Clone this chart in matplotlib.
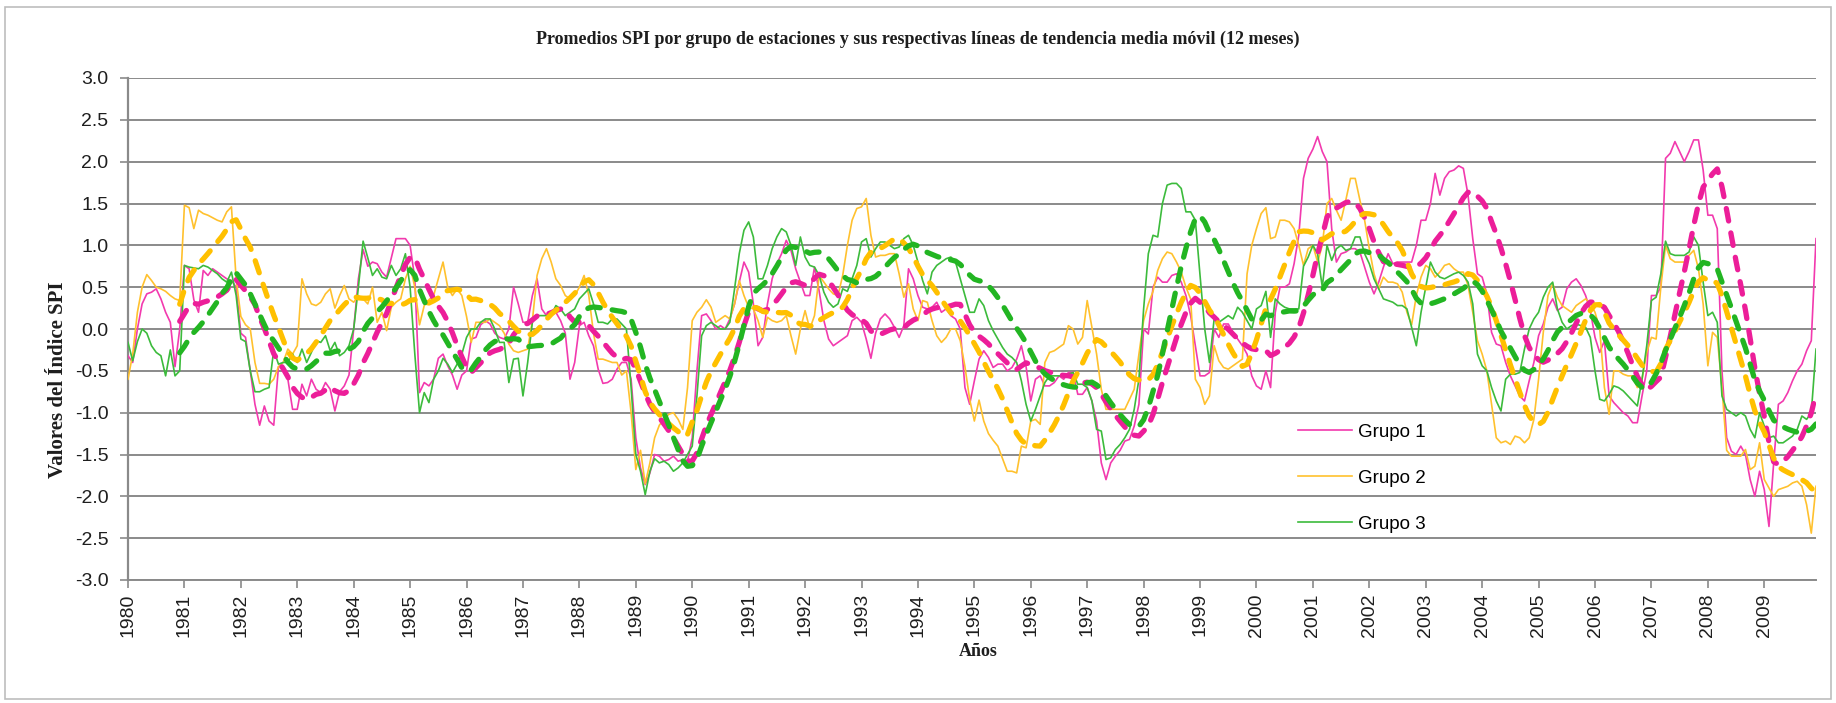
import numpy as np
import pandas as pd
import matplotlib
matplotlib.use("Agg")
import matplotlib.pyplot as plt
from matplotlib.patches import Rectangle

# promedios SPI mensuales 1980-2009, una fila por año
grupo1 = [
    -0.32, -0.40, 0.00, 0.30, 0.42, 0.44, 0.48, 0.36, 0.20, 0.08, -0.45, 0.00,
    0.76, 0.72, 0.35, 0.20, 0.70, 0.64, 0.72, 0.68, 0.64, 0.60, 0.58, 0.50,
    -0.05, -0.10, -0.50, -0.90, -1.15, -0.92, -1.10, -1.15, -0.45, -0.45, -0.60, -0.96,
    -0.96, -0.66, -0.80, -0.60, -0.72, -0.76, -0.64, -0.72, -0.98, -0.75, -0.68, -0.55,
    0.00, 0.60, 0.95, 0.75, 0.80, 0.78, 0.68, 0.62, 0.85, 1.08, 1.08, 1.08,
    1.00, 0.60, -0.76, -0.64, -0.68, -0.60, -0.35, -0.30, -0.44, -0.55, -0.72, -0.55,
    -0.50, -0.12, -0.10, 0.05, 0.10, 0.06, -0.05, -0.10, -0.12, 0.00, 0.50, 0.30,
    0.08, 0.08, 0.40, 0.60, 0.24, 0.16, 0.20, 0.20, 0.10, -0.05, -0.60, -0.40,
    0.04, 0.08, -0.08, -0.20, -0.48, -0.65, -0.64, -0.60, -0.48, -0.40, -0.40, -0.60,
    -1.30, -1.66, -1.86, -1.72, -1.50, -1.52, -1.58, -1.56, -1.52, -1.58, -1.56, -1.58,
    -1.30, -0.50, 0.16, 0.18, 0.10, 0.00, 0.04, 0.00, 0.12, 0.30, 0.56, 0.80,
    0.68, 0.30, -0.20, -0.10, 0.30, 0.60, 0.78, 0.90, 1.06, 0.94, 0.72, 0.56,
    0.40, 0.40, 0.74, 0.45, 0.10, -0.12, -0.20, -0.16, -0.12, -0.08, 0.10, 0.14,
    0.08, -0.12, -0.35, -0.05, 0.12, 0.18, 0.12, 0.02, -0.10, 0.04, 0.72, 0.60,
    0.40, 0.26, 0.24, 0.26, 0.32, 0.20, 0.24, 0.16, 0.12, 0.00, -0.70, -0.90,
    -0.62, -0.36, -0.26, -0.34, -0.46, -0.42, -0.42, -0.50, -0.46, -0.36, -0.20, -0.45,
    -0.86, -0.60, -0.56, -0.68, -0.68, -0.64, -0.56, -0.60, -0.52, -0.52, -0.78, -0.78,
    -0.70, -0.86, -1.10, -1.60, -1.80, -1.60, -1.52, -1.45, -1.34, -1.32, -1.16, -0.90,
    0.00, -0.06, 0.50, 0.62, 0.56, 0.56, 0.64, 0.66, 0.56, 0.40, 0.16, -0.20,
    -0.56, -0.56, -0.52, 0.00, -0.10, 0.06, 0.06, -0.04, -0.12, -0.20, -0.30, -0.56,
    -0.68, -0.72, -0.50, -0.70, 0.20, 0.50, 0.50, 0.54, 0.78, 1.12, 1.80, 2.04,
    2.15, 2.30, 2.12, 2.00, 1.20, 0.80, 0.90, 0.92, 0.96, 0.96, 0.92, 0.74,
    0.56, 0.42, 0.56, 0.74, 0.90, 0.78, 0.80, 0.80, 0.80, 0.80, 1.00, 1.30,
    1.30, 1.50, 1.86, 1.60, 1.80, 1.88, 1.90, 1.95, 1.92, 1.60, 1.08, 0.66,
    0.62, 0.42, -0.04, -0.18, -0.20, -0.40, -0.56, -0.68, -0.80, -0.86, -0.62, -0.40,
    -0.08, 0.06, 0.26, 0.36, 0.22, 0.26, 0.48, 0.56, 0.60, 0.52, 0.40, 0.22,
    -0.10, -0.28, -0.14, -0.80, -0.88, -0.94, -1.00, -1.04, -1.12, -1.12, -0.80, -0.50,
    0.40, 0.40, 0.50, 2.04, 2.10, 2.24, 2.12, 2.00, 2.12, 2.26, 2.26, 1.90,
    1.36, 1.36, 1.20, -0.50, -1.30, -1.46, -1.50, -1.40, -1.50, -1.80, -2.00, -1.70,
    -1.92, -2.36, -1.60, -0.90, -0.86, -0.76, -0.62, -0.50, -0.42, -0.26, -0.14, 1.08,
]

grupo2 = [
    -0.60, -0.30, 0.20, 0.50, 0.65, 0.58, 0.50, 0.48, 0.45, 0.40, 0.36, 0.34,
    1.48, 1.45, 1.20, 1.42, 1.38, 1.36, 1.33, 1.30, 1.28, 1.40, 1.46, 0.60,
    0.15, 0.05, 0.00, -0.40, -0.65, -0.65, -0.66, -0.60, -0.45, -0.40, -0.24, -0.30,
    -0.20, 0.60, 0.42, 0.30, 0.28, 0.32, 0.42, 0.48, 0.25, 0.40, 0.52, 0.36,
    0.32, 0.40, 0.36, 0.30, 0.50, 0.08, 0.20, -0.02, 0.26, 0.32, 0.36, 0.60,
    0.75, 0.50, 0.05, 0.28, 0.35, 0.40, 0.60, 0.80, 0.50, 0.40, 0.48, 0.40,
    0.15, -0.16, 0.08, 0.08, 0.08, 0.12, 0.08, 0.04, -0.05, -0.18, -0.26, -0.28,
    -0.26, -0.24, 0.10, 0.64, 0.84, 0.96, 0.80, 0.60, 0.52, 0.40, 0.36, 0.40,
    0.50, 0.64, 0.40, -0.05, -0.36, -0.36, -0.38, -0.40, -0.40, -0.55, -0.50, -1.00,
    -1.68, -1.45, -1.85, -1.60, -1.30, -1.15, -1.08, -1.02, -1.00, -1.08, -1.20, -0.70,
    0.10, 0.20, 0.26, 0.35, 0.26, 0.08, 0.12, 0.16, 0.12, 0.30, 0.58, 0.40,
    0.26, 0.24, 0.10, -0.10, 0.14, 0.10, 0.08, 0.10, 0.16, -0.08, -0.30, 0.00,
    0.22, 0.00, 0.16, 0.64, 0.56, 0.48, 0.42, 0.40, 0.64, 1.00, 1.30, 1.44,
    1.46, 1.56, 1.12, 0.86, 0.88, 0.88, 0.90, 0.90, 0.66, 0.38, 0.54, 0.24,
    0.10, 0.34, 0.32, 0.10, -0.08, -0.16, -0.10, 0.00, 0.00, -0.14, -0.45, -0.84,
    -1.10, -0.85, -1.10, -1.25, -1.33, -1.40, -1.55, -1.70, -1.70, -1.72, -1.40, -1.42,
    -1.10, -1.08, -1.14, -0.40, -0.28, -0.26, -0.22, -0.18, 0.04, 0.00, -0.18, -0.10,
    0.34, 0.02, -0.30, -0.72, -0.96, -0.96, -0.96, -0.96, -0.96, -0.84, -0.72, -0.30,
    0.10, 0.30, 0.45, 0.70, 0.84, 0.92, 0.90, 0.80, 0.68, 0.50, 0.36, -0.60,
    -0.70, -0.90, -0.80, -0.20, -0.38, -0.46, -0.48, -0.44, -0.40, -0.36, 0.66, 1.00,
    1.20, 1.38, 1.45, 1.08, 1.10, 1.30, 1.30, 1.28, 1.20, 1.00, 0.76, 0.96,
    1.00, 0.80, 1.00, 1.50, 1.56, 1.42, 1.30, 1.54, 1.80, 1.80, 1.54, 1.30,
    0.96, 0.66, 0.48, 0.62, 0.56, 0.56, 0.54, 0.44, 0.20, 0.05, 0.40, 0.62,
    0.76, 0.72, 0.62, 0.68, 0.76, 0.78, 0.72, 0.68, 0.68, 0.52, 0.20, -0.14,
    -0.30, -0.50, -0.90, -1.30, -1.36, -1.34, -1.38, -1.28, -1.30, -1.36, -1.30, -1.08,
    -0.60, -0.04, 0.40, 0.54, 0.38, 0.28, 0.24, 0.20, 0.28, 0.32, 0.36, 0.30,
    0.20, 0.00, -0.70, -1.02, -0.50, -0.50, -0.54, -0.56, -0.56, -0.70, -0.60, -0.28,
    -0.10, -0.12, 0.50, 1.00, 0.84, 0.80, 0.80, 0.80, 0.88, 0.94, 0.72, 0.30,
    -0.44, -0.04, -0.10, -0.70, -1.45, -1.52, -1.52, -1.52, -1.44, -1.68, -1.64, -1.36,
    -1.80, -1.90, -2.00, -1.92, -1.90, -1.88, -1.84, -1.82, -1.88, -2.10, -2.44, -1.88,
]

grupo3 = [
    -0.16, -0.38, -0.15, 0.00, -0.05, -0.20, -0.28, -0.32, -0.56, -0.25, -0.56, -0.50,
    0.76, 0.74, 0.73, 0.72, 0.76, 0.74, 0.70, 0.66, 0.60, 0.56, 0.68, 0.40,
    -0.12, -0.15, -0.50, -0.75, -0.75, -0.72, -0.70, -0.25, -0.42, -0.40, -0.40, -0.30,
    -0.40, -0.24, -0.40, -0.28, -0.14, -0.16, -0.08, -0.26, -0.16, -0.32, -0.28, -0.20,
    0.00, 0.50, 1.05, 0.85, 0.64, 0.72, 0.62, 0.60, 0.76, 0.64, 0.72, 0.90,
    0.50, -0.30, -1.00, -0.76, -0.88, -0.60, -0.50, -0.35, -0.42, -0.52, -0.42, -0.30,
    -0.10, 0.00, 0.00, 0.08, 0.12, 0.12, 0.00, -0.16, -0.16, -0.64, -0.36, -0.35,
    -0.80, -0.40, 0.08, 0.16, 0.16, 0.16, 0.16, 0.28, 0.24, 0.16, 0.20, 0.24,
    0.36, 0.42, 0.48, 0.30, 0.08, 0.08, 0.06, 0.12, 0.12, 0.06, 0.00, -0.70,
    -1.50, -1.70, -1.98, -1.70, -1.55, -1.60, -1.58, -1.62, -1.70, -1.66, -1.60, -1.50,
    -1.40, -0.80, -0.08, 0.04, 0.08, 0.04, 0.00, 0.00, 0.08, 0.48, 0.90, 1.18,
    1.28, 1.10, 0.60, 0.60, 0.76, 0.96, 1.10, 1.20, 1.16, 1.00, 0.76, 1.10,
    0.86, 0.76, 0.74, 0.64, 0.44, 0.32, 0.26, 0.30, 0.48, 0.45, 0.60, 0.76,
    1.04, 1.08, 0.86, 0.96, 1.04, 1.04, 1.00, 0.96, 0.98, 1.08, 1.12, 1.00,
    0.80, 0.58, 0.42, 0.68, 0.76, 0.80, 0.84, 0.86, 0.80, 0.60, 0.40, 0.20,
    0.20, 0.36, 0.28, 0.10, -0.02, -0.12, -0.22, -0.30, -0.34, -0.40, -0.62, -0.90,
    -1.10, -0.96, -0.80, -0.64, -0.56, -0.56, -0.56, -0.56, -0.54, -0.52, -0.66, -0.66,
    -0.70, -0.86, -1.20, -1.22, -1.56, -1.54, -1.44, -1.38, -1.30, -1.20, -0.96, -0.60,
    0.24, 0.90, 1.12, 1.10, 1.50, 1.72, 1.74, 1.74, 1.68, 1.40, 1.40, 1.30,
    0.64, 0.00, -0.40, 0.12, 0.08, 0.12, 0.16, 0.12, 0.26, 0.20, 0.10, 0.00,
    0.24, 0.28, 0.45, -0.10, 0.36, 0.30, 0.26, 0.24, 0.24, 0.24, 0.75, 0.86,
    1.00, 0.90, 0.50, 1.00, 0.82, 0.96, 1.00, 0.94, 0.96, 1.10, 1.10, 0.90,
    0.78, 0.60, 0.48, 0.36, 0.34, 0.32, 0.28, 0.28, 0.24, 0.02, -0.20, 0.20,
    0.50, 0.80, 0.68, 0.62, 0.60, 0.63, 0.66, 0.68, 0.64, 0.56, 0.30, -0.30,
    -0.44, -0.50, -0.70, -0.86, -0.98, -0.60, -0.54, -0.54, -0.52, -0.24, 0.00, 0.12,
    0.20, 0.38, 0.50, 0.56, 0.24, 0.08, 0.00, 0.04, 0.06, 0.04, 0.02, -0.10,
    -0.50, -0.84, -0.86, -0.78, -0.68, -0.70, -0.74, -0.80, -0.86, -0.92, -0.60, -0.20,
    0.34, 0.38, 0.66, 1.05, 0.90, 0.88, 0.88, 0.88, 0.92, 1.10, 1.00, 0.56,
    0.16, 0.20, 0.08, -0.80, -0.96, -1.00, -1.04, -1.00, -1.04, -1.20, -1.30, -1.00,
    -1.16, -1.30, -1.28, -1.36, -1.36, -1.32, -1.28, -1.20, -1.04, -1.08, -1.00, -0.24,
]

years = list(range(1980, 2010))
nombres = ["Grupo 1", "Grupo 2", "Grupo 3"]
colores = ["#F23AAE", "#FFC12E", "#3CBB3C"]
colores_mm = ["#EC1E99", "#FFC000", "#22B522"]

df = pd.DataFrame({"Grupo 1": grupo1, "Grupo 2": grupo2, "Grupo 3": grupo3})
mm = df.rolling(12).mean()   # media móvil de 12 meses
x = np.arange(len(df))

fig = plt.figure(figsize=(18.36, 7.03), dpi=100)
fig.patch.set_facecolor("white")
fig.patches.append(Rectangle((5 / 1836, 4 / 703), 1826 / 1836, 692 / 703,
                             transform=fig.transFigure, fill=False,
                             edgecolor="#BDBDBD", lw=1.2))

ax = fig.add_axes([128 / 1836, 1 - 580 / 703, 1688 / 1836, 502 / 703])

lineas = []
for nom, col in zip(nombres, colores):
    l, = ax.plot(x, df[nom], color=col, lw=1.2, label=nom, zorder=3)
    lineas.append(l)
for nom, col in zip(nombres, colores_mm):
    ax.plot(x, mm[nom], color=col, lw=3.8, dashes=(2.4, 2.3),
            dash_capstyle="round", zorder=4)

ax.set_xlim(0, len(df) - 1)
ax.set_ylim(-3, 3)
ax.set_yticks(np.arange(-3, 3.01, 0.5))
ax.set_yticklabels([f"{v:.1f}" for v in np.arange(-3, 3.01, 0.5)])
ax.set_xticks(np.arange(0, len(df), 12))
ax.set_xticklabels([str(a) for a in years], rotation=90)

ax.yaxis.grid(True, color="#8A8A8A", lw=1.4)
ax.set_axisbelow(True)
for s in ["top", "right"]:
    ax.spines[s].set_visible(False)
ax.spines["left"].set_color("#8A8A8A")
ax.spines["left"].set_linewidth(1.6)
ax.spines["bottom"].set_color("#8A8A8A")
ax.spines["bottom"].set_linewidth(1.4)
ax.tick_params(axis="both", colors="#8A8A8A", labelcolor="#1E1E1E",
               labelsize=14, length=6, width=1.2)
ax.tick_params(axis="y", pad=8)
for t in ax.get_xticklabels() + ax.get_yticklabels():
    t.set_fontfamily("Liberation Sans")

ax.legend(handles=lineas, loc="upper left", bbox_to_anchor=(0.693, 0.312),
          frameon=False, borderpad=0, borderaxespad=0, handlelength=2.9,
          handletextpad=0.3, labelspacing=1.55,
          prop={"family": "Liberation Sans", "size": 13.5})

fig.text(0.5, 1 - 39 / 703,
         "Promedios SPI por grupo de estaciones y sus respectivas líneas de tendencia media móvil (12 meses)",
         ha="center", va="center", fontsize=13, fontweight="bold",
         fontfamily="Liberation Serif", color="#1E1E1E")
fig.text(58 / 1836, 1 - 380 / 703, "Valores del Índice SPI", rotation=90,
         ha="center", va="center", fontsize=15, fontweight="bold",
         fontfamily="Liberation Serif", color="#1E1E1E")
fig.text(978 / 1836, 1 - 652 / 703, "Años", ha="center", va="center",
         fontsize=13, fontweight="bold", fontfamily="Liberation Serif",
         color="#1E1E1E")

plt.savefig("out.png", dpi=100, facecolor="white")
